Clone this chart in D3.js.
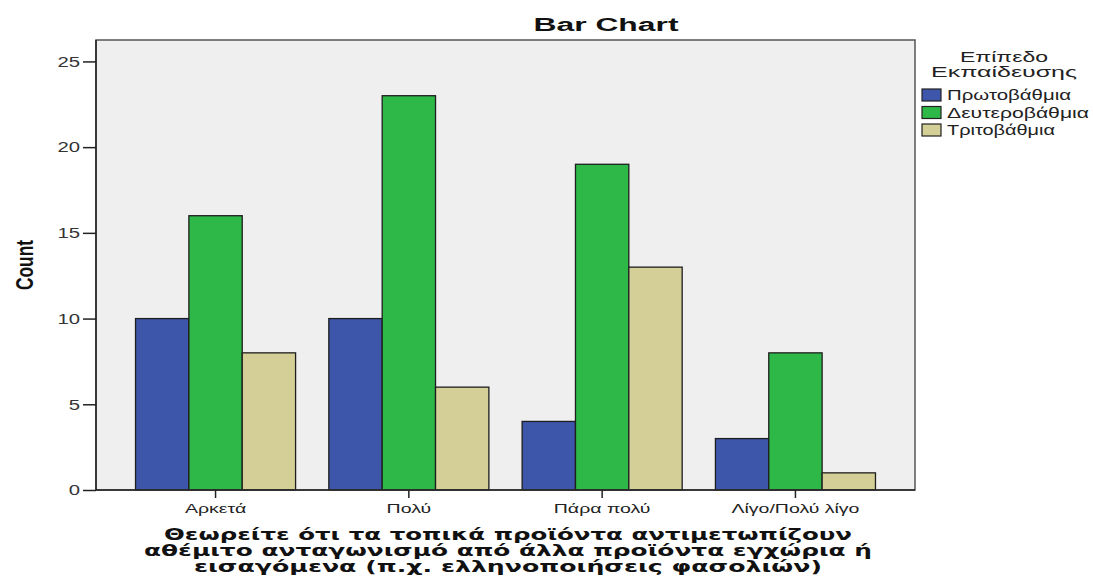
<!DOCTYPE html>
<html>
<head>
<meta charset="utf-8">
<script src="https://cdn.jsdelivr.net/npm/d3@7"></script>
<style>
  html, body { margin: 0; padding: 0; background: #fff; }
  svg { display: block; }
</style>
</head>
<body>
<svg id="chart" width="1093" height="579"></svg>
<script>
const categories = ["Αρκετά", "Πολύ", "Πάρα πολύ", "Λίγο/Πολύ λίγο"];
const seriesNames = ["Πρωτοβάθμια", "Δευτεροβάθμια", "Τριτοβάθμια"];
const primary   = [10, 10, 4, 3];
const secondary = [16, 23, 19, 8];
const tertiary  = [8, 6, 13, 1];
const yTicks = [0, 5, 10, 15, 20, 25];
const colors = ["#3d56aa", "#2db848", "#d4cf97"];
const titleText = "Bar Chart";
const yLabel = "Count";
const xTitleLines = [
  "Θεωρείτε ότι τα τοπικά προϊόντα αντιμετωπίζουν",
  "αθέμιτο ανταγωνισμό από άλλα προϊόντα εγχώρια ή",
  "εισαγόμενα (π.χ. ελληνοποιήσεις φασολιών)"
];
const legendTitle = ["Επίπεδο", "Εκπαίδευσης"];

const values = [primary, secondary, tertiary];
const data = categories.map((c, i) => ({cat: c, vals: seriesNames.map((s, j) => ({s, j, v: values[j][i]}))}));

const svg = d3.select("#chart");
const L = 96, R = 915, T = 40, B = 490;
const font = "'Liberation Sans', Arial, sans-serif";

function stretch(sel, factor) {
  sel.each(function() {
    const w = this.getComputedTextLength();
    d3.select(this).attr("textLength", w * factor).attr("lengthAdjust", "spacingAndGlyphs");
  });
}

const x0 = d3.scaleBand().domain(categories).range([L, R]).paddingInner(0.172).paddingOuter(0.2045);
const x1 = d3.scaleBand().domain(seriesNames).range([0, x0.bandwidth()]);
const y = d3.scaleLinear().domain([0, 26.25]).range([B, T]);

// plot background
svg.append("rect").attr("x", L).attr("y", T).attr("width", R - L).attr("height", B - T)
  .attr("fill", "#efefef");

// bars
svg.append("g").selectAll("g.grp").data(data).join("g").attr("class", "grp")
  .attr("transform", d => `translate(${x0(d.cat)},0)`)
  .selectAll("rect").data(d => d.vals).join("rect")
  .attr("x", d => x1(d.s))
  .attr("y", d => y(d.v))
  .attr("width", x1.bandwidth())
  .attr("height", d => B - y(d.v))
  .attr("fill", d => colors[d.j])
  .attr("stroke", "#1e1e1e")
  .attr("stroke-width", 1.3);

// frame
svg.append("rect").attr("x", L).attr("y", T).attr("width", R - L).attr("height", B - T)
  .attr("fill", "none").attr("stroke", "#555").attr("stroke-width", 1.5);
svg.append("line").attr("x1", L).attr("x2", L).attr("y1", T).attr("y2", B).attr("stroke", "#222").attr("stroke-width", 1.5);
svg.append("line").attr("x1", L).attr("x2", R).attr("y1", B).attr("y2", B).attr("stroke", "#222").attr("stroke-width", 1.5);

// y axis
const yAxis = d3.axisLeft(y).tickValues(yTicks).tickSize(13).tickPadding(3);
const ya = svg.append("g").attr("transform", `translate(${L},0)`).call(yAxis);
ya.select(".domain").remove();
ya.selectAll("line").attr("stroke", "#222").attr("stroke-width", 1.5);
ya.selectAll("text").attr("font-family", font).attr("font-size", 14).attr("fill", "#333")
  .attr("dy", "0.34em");
stretch(ya.selectAll("text"), 1.45);

// x axis
const xAxis = d3.axisBottom(x0).tickSize(8).tickPadding(6);
const xa = svg.append("g").attr("transform", `translate(0,${B})`).call(xAxis);
xa.select(".domain").remove();
xa.selectAll("line").attr("stroke", "#222").attr("stroke-width", 1.5);
xa.selectAll("text").attr("font-family", font).attr("font-size", 13).attr("fill", "#222");
stretch(xa.selectAll("text"), 1.5);

// title
svg.append("text").attr("x", 606).attr("y", 31).attr("text-anchor", "middle")
  .attr("font-family", font).attr("font-weight", "bold").attr("font-size", 18)
  .attr("fill", "#111").attr("textLength", 145).attr("lengthAdjust", "spacingAndGlyphs")
  .text(titleText);

// y label
svg.append("text").attr("transform", "translate(33,265) rotate(-90)").attr("text-anchor", "middle")
  .attr("font-family", "'Liberation Sans Narrow', 'Liberation Sans', Arial, sans-serif")
  .attr("font-weight", "bold").attr("font-size", 23).attr("fill", "#111")
  .attr("textLength", 50).attr("lengthAdjust", "spacingAndGlyphs").text(yLabel);

// x title
const xtW = [688, 728, 628];
const xtY = [540, 556, 572];
svg.append("g").selectAll("text").data(xTitleLines).join("text")
  .attr("x", 508).attr("y", (d, i) => xtY[i]).attr("text-anchor", "middle")
  .attr("font-family", "'DejaVu Sans', Verdana, sans-serif").attr("font-weight", "bold")
  .attr("font-size", 15).attr("fill", "#111")
  .attr("textLength", (d, i) => xtW[i]).attr("lengthAdjust", "spacingAndGlyphs")
  .text(d => d);

// legend
const lg = svg.append("g");
lg.selectAll("text.lt").data(legendTitle).join("text").attr("class", "lt")
  .attr("x", 1004).attr("y", (d, i) => 62 + i * 15).attr("text-anchor", "middle")
  .attr("font-family", font).attr("font-size", 15).attr("fill", "#222")
  .attr("textLength", (d, i) => i === 0 ? 88 : 146).attr("lengthAdjust", "spacingAndGlyphs")
  .text(d => d);
const items = lg.selectAll("g.it").data(seriesNames).join("g").attr("class", "it")
  .attr("transform", (d, i) => `translate(922,${89 + i * 17.5})`);
items.append("rect").attr("x", 0).attr("y", 0).attr("width", 19).attr("height", 12)
  .attr("fill", (d, i) => colors[i]).attr("stroke", "#222").attr("stroke-width", 1.2);
items.append("text").attr("x", 25).attr("y", 11)
  .attr("font-family", font).attr("font-size", 15).attr("fill", "#222")
  .attr("textLength", (d, i) => [124, 142, 108][i]).attr("lengthAdjust", "spacingAndGlyphs")
  .text(d => d);
</script>
</body>
</html>
